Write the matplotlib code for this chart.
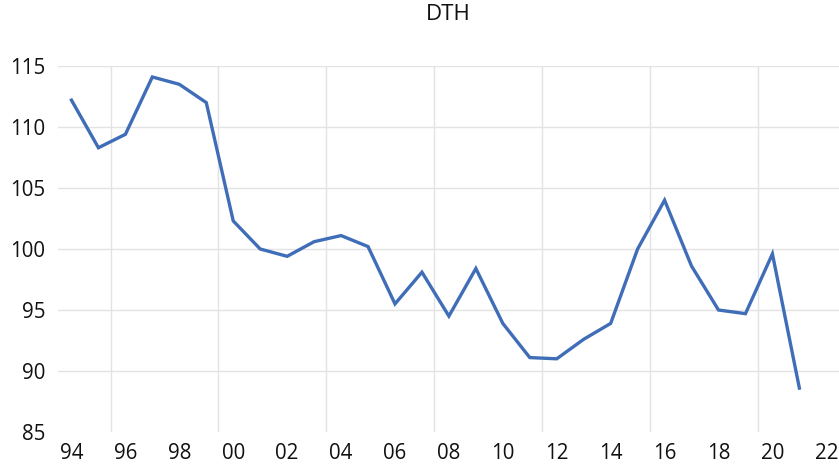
import matplotlib
matplotlib.use("Agg")
import matplotlib.pyplot as plt
import numpy as np

plt.rcParams['font.family'] = ['Open Sans', 'DejaVu Sans']

years = np.arange(1994, 2022)
dth = [112.2, 108.3, 109.4, 114.1, 113.5, 112.0, 102.3, 100.0, 99.4, 100.6,
       101.1, 100.2, 95.5, 98.1, 94.5, 98.4, 93.9, 91.1, 91.0, 92.6,
       93.9, 100.0, 104.0, 98.6, 95.0, 94.7, 99.6, 88.6]

label_years = np.arange(1994, 2023, 2)
grid_years = [1995.45, 1999.45, 2003.45, 2007.45, 2011.45, 2015.45, 2019.45]
yticks = [85, 90, 95, 100, 105, 110, 115]

fig = plt.figure(figsize=(8.39, 4.72), dpi=100)
ax = fig.add_axes([58 / 839, 40 / 472, 781 / 839, 366 / 472])

ax.plot(years, dth, color='#3F6DB7', lw=2.4, solid_joinstyle='miter', zorder=3)

ax.set_xlim(1993.5, 2022.47)
ax.set_ylim(85, 115)

ax.set_xticks(label_years)
ax.set_xticklabels(['%02d' % (y % 100) for y in label_years])
ax.set_yticks(yticks)

# horizontal grid (no line at the bottom, like the original)
for y in yticks[1:]:
    ax.axhline(y, color='#e3e3e3', lw=1.0, zorder=1)
for x in grid_years:
    ax.axvline(x, color='#e3e3e3', lw=1.0, zorder=1)

for s in ax.spines.values():
    s.set_visible(False)
ax.tick_params(axis='both', which='both', length=0, labelsize=14.8, colors='#111111')
ax.tick_params(axis='y', pad=9)
ax.tick_params(axis='x', pad=8)

fig.text(448 / 839, 1 - 15 / 472, 'DTH', ha='center', va='center', fontsize=16, color='#111111')

fig.savefig('out.png', dpi=100)
